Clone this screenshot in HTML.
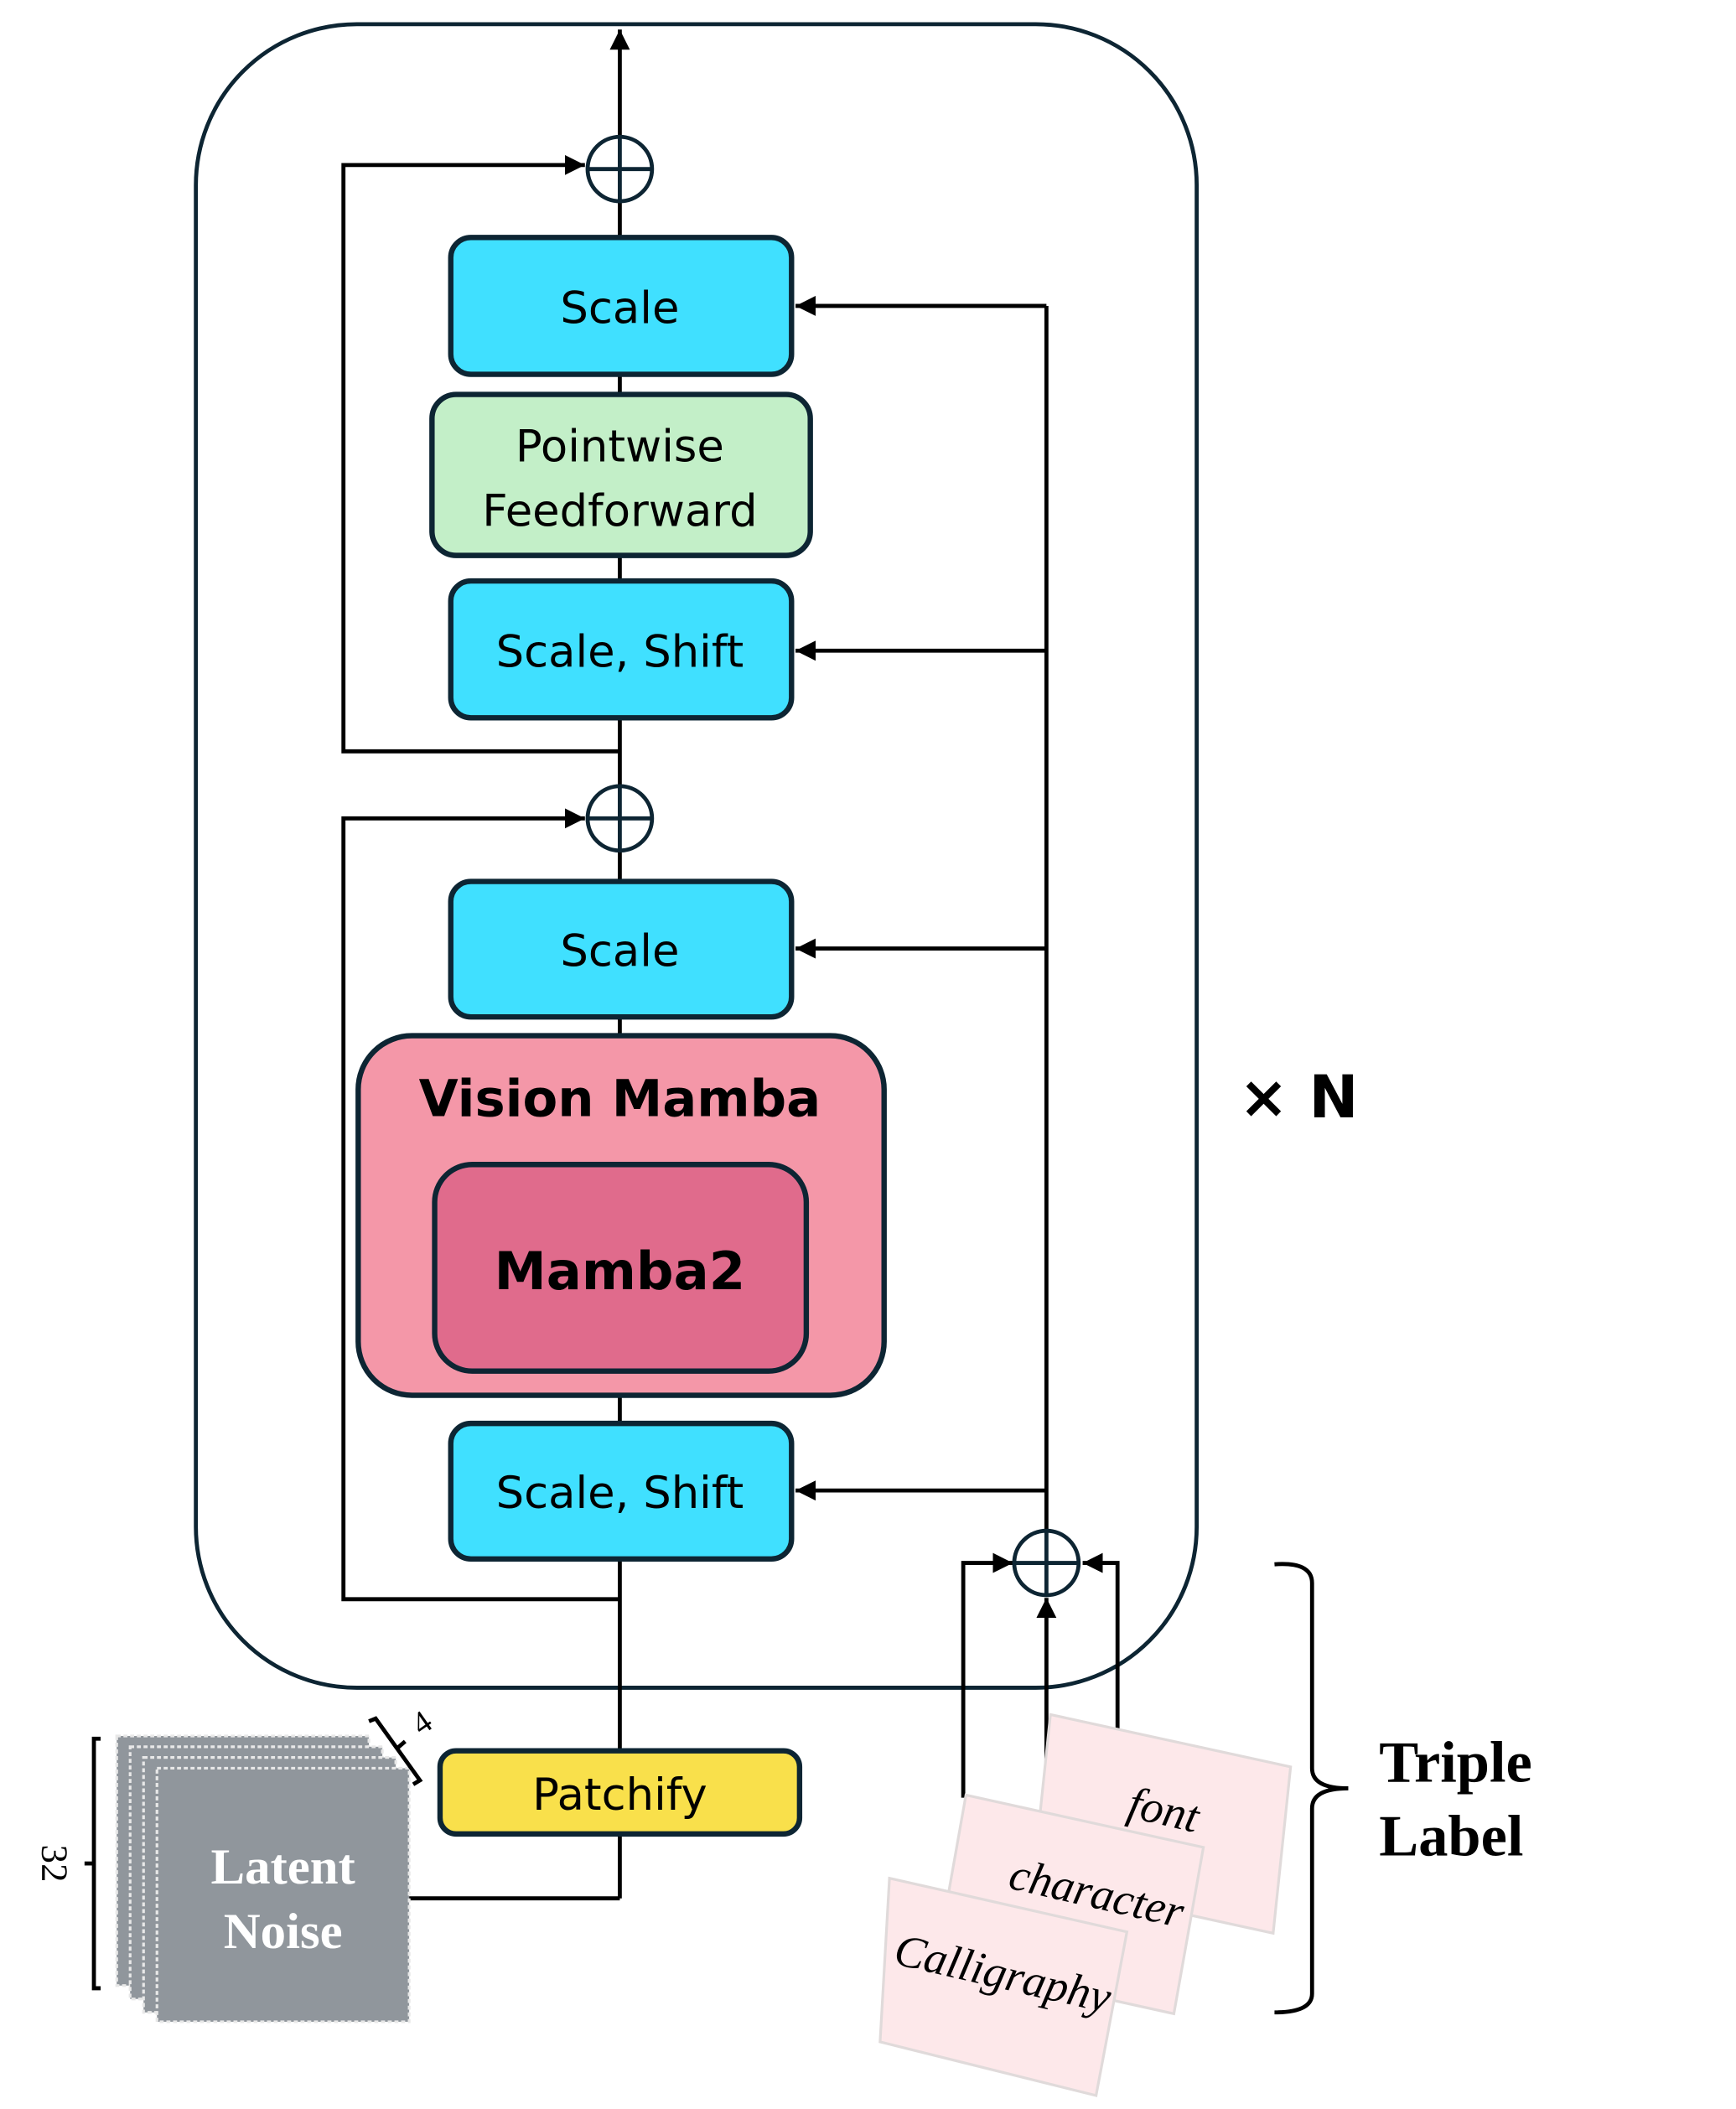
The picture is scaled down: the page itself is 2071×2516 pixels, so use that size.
<!DOCTYPE html>
<html><head><meta charset="utf-8"><style>
html,body{margin:0;padding:0;background:#fff}
svg{display:block}
.s{font-family:"DejaVu Sans","Liberation Sans",sans-serif}
</style></head><body>
<svg width="2071" height="2516" viewBox="0 0 1294 1572" xmlns="http://www.w3.org/2000/svg">
<defs>
<marker id="a" viewBox="0 0 10 10" refX="10" refY="5" markerWidth="5" markerHeight="5" orient="auto"><path d="M0,0L10,5L0,10z" fill="#000"/></marker>
</defs>
<rect x="146" y="18" width="746" height="1240" rx="120" fill="none" stroke="#0d2533" stroke-width="3"/>
<g stroke="#000" stroke-width="3" fill="none">
<line x1="462" y1="1415" x2="462" y2="22" marker-end="url(#a)"/>
<polyline points="305,1415 462,1415"/>
<polyline points="462,560 256,560 256,123 436,123" marker-end="url(#a)"/>
<polyline points="462,1192 256,1192 256,610 436,610" marker-end="url(#a)"/>
<line x1="780" y1="228" x2="780" y2="1141"/>
<line x1="780" y1="228" x2="593" y2="228" marker-end="url(#a)"/>
<line x1="780" y1="485" x2="593" y2="485" marker-end="url(#a)"/>
<line x1="780" y1="707" x2="593" y2="707" marker-end="url(#a)"/>
<line x1="780" y1="1111" x2="593" y2="1111" marker-end="url(#a)"/>
<polyline points="718,1340 718,1165 755,1165" marker-end="url(#a)"/>
<line x1="780" y1="1330" x2="780" y2="1191" marker-end="url(#a)"/>
<polyline points="833,1290 833,1165 807,1165" marker-end="url(#a)"/>
</g>
<g stroke="#0d2533" stroke-width="3" fill="#fff">
<circle cx="462" cy="126" r="24"/><line x1="438" y1="126" x2="486" y2="126"/><line x1="462" y1="102" x2="462" y2="150"/>
<circle cx="462" cy="610" r="24"/><line x1="438" y1="610" x2="486" y2="610"/><line x1="462" y1="586" x2="462" y2="634"/>
<circle cx="780" cy="1165" r="24"/><line x1="756" y1="1165" x2="804" y2="1165"/><line x1="780" y1="1141" x2="780" y2="1189"/>
</g>
<g stroke="#0d2533" stroke-width="4">
<rect x="336" y="177" width="254" height="102" rx="15" fill="#40e0ff"/>
<rect x="322" y="294" width="282" height="120" rx="18" fill="#c3efc8"/>
<rect x="336" y="433" width="254" height="102" rx="15" fill="#40e0ff"/>
<rect x="336" y="657" width="254" height="101" rx="15" fill="#40e0ff"/>
<rect x="267" y="772" width="392" height="268" rx="40" fill="#f497a8"/>
<rect x="324" y="868" width="277" height="154" rx="28" fill="#e06b8c"/>
<rect x="336" y="1061" width="254" height="101" rx="15" fill="#40e0ff"/>
<rect x="328" y="1305" width="268" height="62" rx="12" fill="#f9e04b"/>
</g>
<g class="s" font-size="33" text-anchor="middle" fill="#000">
<text x="462" y="241">Scale</text>
<text x="462" y="344">Pointwise</text>
<text x="462" y="392">Feedforward</text>
<text x="462" y="497">Scale, Shift</text>
<text x="462" y="720">Scale</text>
<text x="462" y="1124">Scale, Shift</text>
<text x="462" y="1349">Patchify</text>
<text x="462" y="832" font-weight="bold" font-size="38">Vision Mamba</text>
<text x="462" y="961" font-weight="bold" font-size="39">Mamba2</text>
<text x="968" y="833" font-weight="bold" font-size="44">× N</text>
</g>
<g stroke="#e8e8e8" stroke-width="2" stroke-dasharray="3,2" fill="#90969c">
<rect x="87" y="1294" width="188" height="186"/>
<rect x="97" y="1302" width="188" height="188"/>
<rect x="107" y="1310" width="188" height="190"/>
<rect x="117" y="1318" width="188" height="189"/>
</g>
<g font-family="Liberation Serif,serif" font-weight="bold" font-size="38" fill="#fff" text-anchor="middle">
<text x="211" y="1404">Latent</text><text x="211" y="1452">Noise</text>
</g>
<g stroke="#000" stroke-width="3" fill="none">
<polyline points="75,1296 70,1296 70,1482 75,1482"/><line x1="63" y1="1389" x2="70" y2="1389"/>
<polyline points="275,1283 280,1281 313,1327 308,1330"/><line x1="295" y1="1304" x2="302" y2="1298"/>
<path d="M950,1166 Q978,1164 978,1180 L978,1318 Q978,1333 1005,1333 Q978,1333 978,1348 L978,1486 Q978,1500 950,1500"/>
</g>
<text x="38" y="1389" font-family="Liberation Serif,serif" font-size="28" transform="rotate(90 38 1389)" text-anchor="middle" dominant-baseline="middle">32</text>
<text x="314" y="1294" font-family="Liberation Serif,serif" font-size="24" transform="rotate(-35 314 1294)">4</text>
<g font-family="Liberation Serif,serif" font-weight="bold" font-size="44" fill="#000">
<text x="1028" y="1328">Triple</text><text x="1028" y="1383">Label</text>
</g>
<g fill="#fde8ea" stroke="#e0dada" stroke-width="2">
<polygon points="783,1278 962,1317 949,1441 770,1402"/>
<polygon points="720,1338 897,1377 875,1501 698,1462"/>
<polygon points="663,1400 840,1440 817,1562 656,1522"/>
</g>
<g font-family="Liberation Serif,serif" font-style="italic" font-size="34" fill="#000" text-anchor="middle">
<text x="865" y="1360" transform="rotate(13 865 1360)">font</text>
<text x="815" y="1422" transform="rotate(13 815 1422)">character</text>
<text x="745" y="1482" transform="rotate(13 745 1482)">Calligraphy</text>
</g>
</svg>
</body></html>
